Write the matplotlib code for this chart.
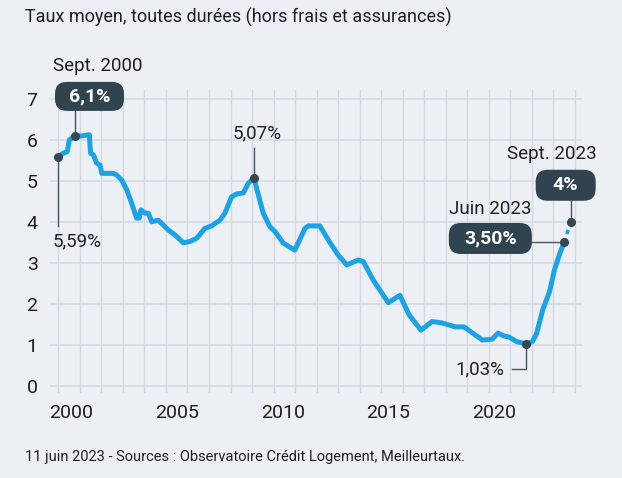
import matplotlib
matplotlib.use("Agg")
import matplotlib.pyplot as plt
import matplotlib.transforms as mtransforms
from matplotlib.patches import FancyBboxPatch

plt.rcParams["font.family"] = ["Roboto", "DejaVu Sans"]

# Taux moyen des crédits immobiliers (année décimale, %)
years = [2000.0, 2000.23, 2000.42, 2000.51, 2000.78, 2001.09, 2001.44, 2001.5, 2001.63,
         2001.78, 2001.94, 2002.02, 2002.55, 2002.71, 2002.94, 2003.18, 2003.41, 2003.64,
         2003.76, 2003.84, 2004.03, 2004.18, 2004.34, 2004.64, 2004.96, 2005.11, 2005.42,
         2005.81, 2006.12, 2006.43, 2006.81, 2007.12, 2007.51, 2007.74, 2008.05, 2008.29,
         2008.59, 2008.83, 2009.09, 2009.21, 2009.52, 2009.83, 2010.07, 2010.45, 2010.99,
         2011.46, 2011.61, 2012.15, 2012.54, 2013.0, 2013.4, 2013.93, 2014.17, 2014.63,
         2015.33, 2015.87, 2016.3, 2016.85, 2017.36, 2017.8, 2018.45, 2018.85, 2019.25,
         2019.7, 2020.15, 2020.43, 2020.7, 2020.95, 2021.3, 2021.72, 2022.02, 2022.22,
         2022.5, 2022.82, 2023.05, 2023.3, 2023.5]
rates = [5.59, 5.67, 5.71, 5.99, 6.10, 6.09, 6.12, 5.67, 5.63,
         5.43, 5.38, 5.18, 5.18, 5.14, 5.02, 4.78, 4.45, 4.09,
         4.09, 4.29, 4.21, 4.21, 4.00, 4.04, 3.88, 3.80, 3.68,
         3.49, 3.52, 3.60, 3.84, 3.90, 4.04, 4.21, 4.61, 4.68,
         4.70, 4.94, 5.07, 4.82, 4.21, 3.88, 3.76, 3.48, 3.31,
         3.84, 3.90, 3.90, 3.56, 3.19, 2.95, 3.07, 3.03, 2.58,
         2.03, 2.21, 1.73, 1.36, 1.57, 1.54, 1.44, 1.44, 1.29,
         1.12, 1.14, 1.29, 1.22, 1.19, 1.08, 1.03, 1.08, 1.28,
         1.85, 2.30, 2.83, 3.23, 3.50]

# prévision juin -> sept. 2023
proj_years = [2023.5, 2023.8]
proj_rates = [3.50, 4.0]

year_labels = ["2000", "2005", "2010", "2015", "2020"]
year_label_pos = [2000.58, 2005.5, 2010.43, 2015.33, 2020.25]
y_ticks = [0, 1, 2, 3, 4, 5, 6, 7]

BG = "#ECF0F4"
GRID = "#D3D9E1"
BLUE = "#1CA3E6"
DARK = "#2F444E"
TXT = "#1E1E1E"

fig = plt.figure(figsize=(6.22, 4.78), dpi=100, facecolor=BG)
ax = fig.add_axes([0.0804, 0.1778, 0.855, 0.6339], facecolor=BG)

ax.set_xlim(1999.615, 2024.32)
ax.set_ylim(-0.17, 7.21)
for s in ax.spines.values():
    s.set_visible(False)

ax.set_xticks(year_label_pos, year_labels)
ax.set_xticks(range(2000, 2025), minor=True)
ax.set_yticks(y_ticks)
ax.tick_params(which="both", length=0)
ax.tick_params(axis="x", pad=8, labelsize=14, labelcolor=TXT)
ax.tick_params(axis="y", pad=9, labelsize=14, labelcolor=TXT)
ax.grid(which="minor", axis="x", color=GRID, lw=1)
ax.grid(which="major", axis="y", color=GRID, lw=1.1)
ax.set_axisbelow(True)

ax.plot(years, rates, color=BLUE, lw=3.6, solid_joinstyle="round", solid_capstyle="round", zorder=3)
ax.plot(proj_years, proj_rates, color=BLUE, lw=2.6, ls=(0, (1.2, 1.2)), zorder=3)

line_kw = dict(color="#4A555C", lw=1, zorder=2)
dot_kw = dict(marker="o", ms=5.5, color="#37474F", ls="none", zorder=5)


def pill(x, y, w, h, text):
    tr = mtransforms.IdentityTransform() + mtransforms.ScaledTranslation(x, y, ax.transData)
    box = FancyBboxPatch((-w / 2, -h / 2), w, h, boxstyle="round,pad=0,rounding_size=12",
                         transform=tr, facecolor=DARK, edgecolor="none", zorder=6, clip_on=False)
    ax.add_patch(box)
    ax.text(x, y, text, ha="center", va="center", color="white", fontsize=14,
            fontweight="bold", zorder=7, clip_on=False)


# Sept. 2000
i_pk = 4
ax.plot([years[i_pk], years[i_pk]], [rates[i_pk], 7.05], **line_kw)
ax.plot(years[i_pk], rates[i_pk], **dot_kw)
pill(2001.45, 7.054, 69, 29, "6,1%")
ax.text(1999.75, 7.80, "Sept. 2000", ha="left", va="center", fontsize=13.5, color=TXT)

# 5,59 %
ax.plot([years[0], years[0]], [rates[0], 3.90], **line_kw)
ax.plot(years[0], rates[0], **dot_kw)
ax.text(1999.72, 3.53, "5,59%", ha="left", va="center", fontsize=13.5, color=TXT)

# 5,07 %
i_08 = 38
ax.plot([years[i_08], years[i_08]], [rates[i_08], 5.80], **line_kw)
ax.plot(years[i_08], rates[i_08], **dot_kw)
ax.text(2008.1, 6.165, "5,07%", ha="left", va="center", fontsize=13.5, color=TXT)

# 1,03 %
i_min = 69
ax.plot([years[i_min], years[i_min], 2021.07], [rates[i_min], 0.41, 0.41], **line_kw)
ax.plot(years[i_min], rates[i_min], **dot_kw)
ax.text(2020.72, 0.40, "1,03%", ha="right", va="center", fontsize=13.5, color=TXT)

# Juin 2023
ax.plot([2020.07, proj_years[0]], [proj_rates[0], proj_rates[0]], **line_kw)
ax.plot(proj_years[0], proj_rates[0], **dot_kw)
pill(2020.07, 3.594, 83, 31, "3,50%")
ax.text(2020.05, 4.31, "Juin 2023", ha="center", va="center", fontsize=13.5, color=TXT)

# Sept. 2023
ax.plot([proj_years[1], proj_years[1]], [proj_rates[1], 4.89], **line_kw)
ax.plot(proj_years[1], proj_rates[1], **dot_kw)
pill(2023.57, 4.89, 60, 31, "4%")
ax.text(2022.93, 5.65, "Sept. 2023", ha="center", va="center", fontsize=13.5, color=TXT)

fig.text(0.040, 0.964, "Taux moyen, toutes durées (hors frais et assurances)",
         ha="left", va="center", fontsize=13, color=TXT)
fig.text(0.040, 0.0445, "11 juin 2023 - Sources : Observatoire Crédit Logement, Meilleurtaux.",
         ha="left", va="center", fontsize=10.5, color=TXT)

fig.savefig("out.png", dpi=100, facecolor=BG)
